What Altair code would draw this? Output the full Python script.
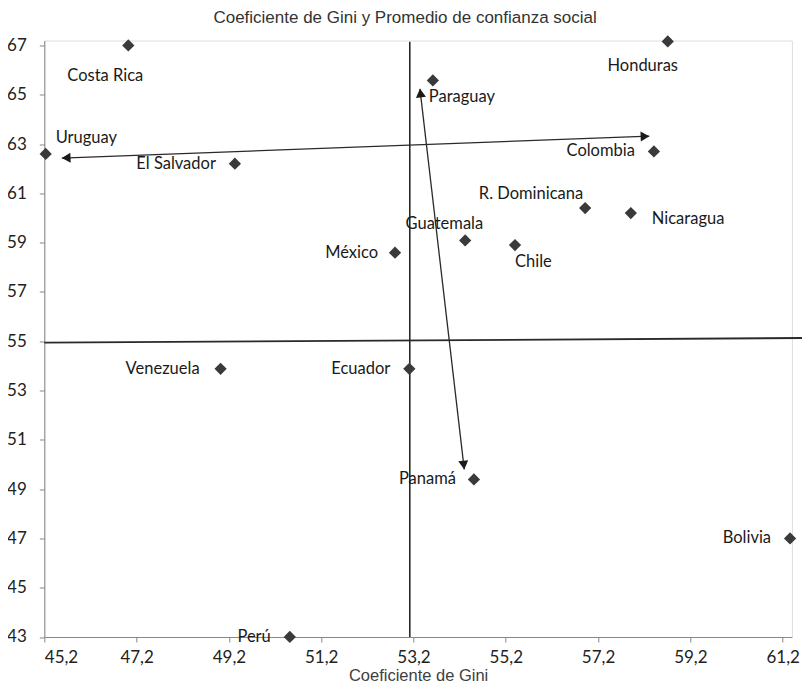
import math
import altair as alt
import pandas as pd

# ---- data ----
paises = ["Costa Rica", "Honduras", "Paraguay", "Uruguay", "El Salvador", "Colombia",
          "R. Dominicana", "Nicaragua", "Guatemala", "Chile", "México", "Venezuela",
          "Ecuador", "Panamá", "Bolivia", "Perú"]
gini = [47.02, 58.71, 53.62, 45.23, 49.33, 58.41, 56.92, 57.91, 54.32, 55.40, 52.80,
        49.02, 53.11, 54.51, 61.36, 50.52]
confianza = [67.00, 67.16, 65.58, 62.60, 62.20, 62.70, 60.40, 60.20, 59.09, 58.90, 58.59,
             53.88, 53.88, 49.39, 47.00, 43.00]

x_ticks = [45.2, 47.2, 49.2, 51.2, 53.2, 55.2, 57.2, 59.2, 61.2]
y_ticks = [43, 45, 47, 49, 51, 53, 55, 57, 59, 61, 63, 65, 67]

# reference lines (annotation)
vline_x = [53.12, 53.12]
vline_y = [43.0, 67.15]
hline_x = [45.2, 61.62]
hline_y = [54.94, 55.13]

# double-headed arrows (tips)
arrow_h_x = [45.58, 58.31]
arrow_h_y = [62.43, 63.32]
arrow_v_x = [53.34, 54.30]
arrow_v_y = [65.24, 49.80]

# ---- styling ----
X_DOM = [45.2, 61.4]
Y_DOM = [43.0, 67.2]
W = 747.6
H = 596.5
PX_X = W / (X_DOM[1] - X_DOM[0])
PX_Y = H / (Y_DOM[1] - Y_DOM[0])

label_style = {
    "Costa Rica": ("center", -23, 31),
    "Honduras": ("center", -25, 25),
    "Paraguay": ("left", -4, 17),
    "Uruguay": ("left", 10, -16),
    "El Salvador": ("right", -19, 0),
    "Colombia": ("right", -19, 0),
    "R. Dominicana": ("right", -2, -14),
    "Nicaragua": ("left", 21, 6),
    "Guatemala": ("right", 18, -16),
    "Chile": ("left", 0, 17),
    "México": ("right", -17, 0),
    "Venezuela": ("right", -21, 0),
    "Ecuador": ("right", -19, 0),
    "Panamá": ("right", -18, 0),
    "Bolivia": ("right", -19, 0),
    "Perú": ("right", -19, 0),
}

LABEL_FONT = "Lato"
DARK = "#3a3a3a"

df = pd.DataFrame({"pais": paises, "gini": gini, "confianza": confianza})

xs = alt.Scale(domain=X_DOM, nice=False, zero=False)
ys = alt.Scale(domain=Y_DOM, nice=False, zero=False)

x_axis = alt.Axis(values=x_ticks, labelExpr="replace(format(datum.value, '.1f'), '.', ',')",
                  title="Coeficiente de Gini", grid=False, domainColor="#888888",
                  tickColor="#888888", tickSize=5, labelFont=LABEL_FONT, labelFontSize=17,
                  labelColor="#222222", labelPadding=8, titleFont="Liberation Sans",
                  titleFontSize=16.5, titleFontWeight="normal", titleColor="#404040",
                  titlePadding=2)
y_axis = alt.Axis(values=y_ticks, format="d", title=None, grid=False, domainColor="#888888",
                  tickColor="#888888", tickSize=5, labelFont=LABEL_FONT, labelFontSize=17,
                  labelColor="#222222", labelPadding=13)

points = alt.Chart(df).mark_point(shape="diamond", filled=True, size=150, color=DARK,
                                  opacity=1).encode(
    x=alt.X("gini:Q", scale=xs, axis=x_axis),
    y=alt.Y("confianza:Q", scale=ys, axis=y_axis),
)

label_layers = []
for name, (align, dx, dy) in label_style.items():
    label_layers.append(
        alt.Chart(df).transform_filter(alt.datum.pais == name).mark_text(
            align=align, baseline="middle", dx=dx, dy=dy, font=LABEL_FONT, fontSize=16.5,
            color="#1a1a1a").encode(x=alt.X("gini:Q", scale=xs),
                                    y=alt.Y("confianza:Q", scale=ys), text="pais:N")
    )

lines_df = pd.DataFrame({
    "x": [vline_x[0], hline_x[0], arrow_h_x[0], arrow_v_x[0]],
    "x2": [vline_x[1], hline_x[1], arrow_h_x[1], arrow_v_x[1]],
    "y": [vline_y[0], hline_y[0], arrow_h_y[0], arrow_v_y[0]],
    "y2": [vline_y[1], hline_y[1], arrow_h_y[1], arrow_v_y[1]],
    "w": [1.6, 1.8, 1.3, 1.3],
})
rules = alt.Chart(lines_df).mark_rule(color="#2a2a2a", clip=False).encode(
    x=alt.X("x:Q", scale=xs), x2="x2:Q", y=alt.Y("y:Q", scale=ys), y2="y2:Q",
    strokeWidth=alt.StrokeWidth("w:Q", scale=None, legend=None),
)

# arrowheads: place triangle centres slightly back from each tip, rotated to line direction
HEAD = 100
h_off = math.sqrt(3) / 4 * math.sqrt(HEAD)
heads = []
for ax, ay in [(arrow_h_x, arrow_h_y), (arrow_v_x, arrow_v_y)]:
    for i, j in [(0, 1), (1, 0)]:
        dxp = (ax[i] - ax[j]) * PX_X
        dyp = -(ay[i] - ay[j]) * PX_Y
        L = math.hypot(dxp, dyp)
        ux, uy = dxp / L, dyp / L
        cx = ax[i] - ux * h_off / PX_X
        cy = ay[i] + uy * h_off / PX_Y
        ang = math.degrees(math.atan2(ux, -uy)) % 360
        heads.append({"x": cx, "y": cy, "a": ang})
heads_df = pd.DataFrame(heads)
arrowheads = alt.Chart(heads_df).mark_point(shape="triangle-up", filled=True, size=HEAD,
                                            color="#1a1a1a", opacity=1).encode(
    x=alt.X("x:Q", scale=xs), y=alt.Y("y:Q", scale=ys),
    angle=alt.Angle("a:Q", scale=None),
)

chart = alt.layer(rules, arrowheads, points, *label_layers).properties(
    width=W, height=H,
    title=alt.TitleParams("Coeficiente de Gini y Promedio de confianza social",
                          font="Liberation Sans", fontSize=17, fontWeight="normal",
                          color="#333333", anchor="middle", dx=-13, offset=8),
    autosize=alt.AutoSizeParams(type="none"),
    padding={"left": 36.3, "top": 32.5, "right": 10, "bottom": 48.5},
).configure_view(stroke=None).configure(background="white")

chart.save("out.html", embed_options={"renderer": "svg", "actions": False})
